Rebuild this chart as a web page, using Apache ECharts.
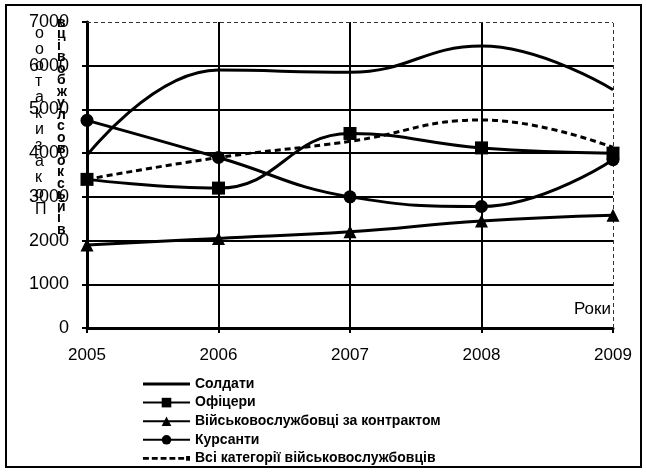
<!DOCTYPE html>
<html>
<head>
<meta charset="utf-8">
<script src="https://cdn.jsdelivr.net/npm/echarts@6/dist/echarts.min.js"></script>
<style>
  html, body { margin: 0; padding: 0; background: #fff; }
  #chart { width: 647px; height: 472px; }
</style>
</head>
<body>
<div id="chart"></div>
<script>
// years on the x axis
const years = ["2005", "2006", "2007", "2008", "2009"];

// values
const soldiers = [3950, 5900, 5850, 6450, 5450];
const officers = [3400, 3200, 4450, 4120, 4000];
const contract = [1900, 2050, 2200, 2450, 2580];
const cadets = [4750, 3900, 3000, 2780, 3850];
const allCategories = [3400, 3900, 4270, 4760, 4130];

const seriesNames = [
  "Солдати",
  "Офіцери",
  "Військовослужбовці за контрактом",
  "Курсанти",
  "Всі категорії військовослужбовців",
];

// garbled vertical axis title, as it shows in the picture
const yTitleCol1 = "ооотакизакоП";
const yTitleCol2 = "вцівобжулсовоксьйів";

const FONT = "Liberation Sans, Arial, sans-serif";

// legend icons for the series without markers
const solidIcon = "path://M0,0 H48 V3 H0 Z";
const dashedIcon =
  "path://M0,0 H6 V3 H0 Z M9,0 H15 V3 H9 Z M18,0 H24 V3 H18 Z M27,0 H33 V3 H27 Z M36,0 H42 V3 H36 Z M44,-1 H48 V4 H44 Z";

const chart = echarts.init(document.getElementById("chart"));

const lineSeries = (name, data, symbol, size, dashed) => ({
  name: name,
  type: "line",
  data: data,
  smooth: 0.45,
  symbol: symbol,
  symbolSize: size,
  showSymbol: symbol !== "none",
  lineStyle: { color: "#000", width: 3, type: dashed ? [6, 4] : "solid" },
  itemStyle: { color: "#000" },
  z: 5,
});

const option = {
  animation: false,
  backgroundColor: "#fff",
  grid: { left: 87, right: 34, top: 22, bottom: 144 },
  legend: {
    orient: "vertical",
    left: 142,
    top: 377,
    height: 110,
    padding: 0,
    itemWidth: 47,
    itemHeight: 12,
    itemGap: 4.6,
    textStyle: {
      fontFamily: FONT,
      fontSize: 14,
      lineHeight: 14,
      fontWeight: "bold",
      color: "#000",
    },
    data: [
      { name: seriesNames[0], icon: solidIcon },
      { name: seriesNames[1] },
      { name: seriesNames[2] },
      { name: seriesNames[3] },
      { name: seriesNames[4], icon: dashedIcon },
    ],
  },
  xAxis: {
    type: "category",
    data: years,
    boundaryGap: false,
    axisLine: { lineStyle: { color: "#000", width: 3 } },
    axisTick: { show: true, length: 5, lineStyle: { color: "#000", width: 2 } },
    axisLabel: { fontFamily: FONT, fontSize: 17, color: "#000", margin: 19 },
    splitLine: {
      show: true,
      lineStyle: { color: ["#000", "#000", "#000", "#000", "transparent"], width: 2 },
    },
  },
  yAxis: {
    type: "value",
    min: 0,
    max: 7000,
    interval: 1000,
    axisLine: { show: true, lineStyle: { color: "#000", width: 3 } },
    axisTick: { show: true, length: 5, lineStyle: { color: "#000", width: 2 } },
    axisLabel: {
      fontFamily: FONT,
      fontSize: 18,
      color: "#000",
      margin: 18,
      formatter: (v) => String(v),
    },
    splitLine: {
      show: true,
      lineStyle: {
        color: ["#000", "#000", "#000", "#000", "#000", "#000", "#000", "transparent"],
        width: 2,
      },
    },
  },
  series: [
    lineSeries(seriesNames[0], soldiers, "none", 0, false),
    lineSeries(seriesNames[1], officers, "rect", 13, false),
    lineSeries(seriesNames[2], contract, "triangle", 13, false),
    lineSeries(seriesNames[3], cadets, "circle", 13, false),
    Object.assign(lineSeries(seriesNames[4], allCategories, "none", 0, true), {
      markLine: {
        silent: true,
        symbol: "none",
        label: { show: false },
        lineStyle: { color: "#333", width: 1, type: [4, 3] },
        data: [
          [{ coord: ["2005", 7000] }, { coord: ["2009", 7000] }],
          [{ coord: ["2009", 0] }, { coord: ["2009", 7000] }],
        ],
      },
    }),
  ],
  graphic: [
    {
      type: "rect",
      shape: { x: 6, y: 5, width: 635, height: 462 },
      style: { fill: "none", stroke: "#000", lineWidth: 2 },
      silent: true,
    },
    {
      type: "text",
      left: 574,
      top: 301,
      style: { text: "Роки", font: "17px " + FONT, fill: "#000" },
    },
    {
      type: "text",
      left: 35,
      top: 26,
      style: {
        text: yTitleCol1.split("").join("\n"),
        font: "16px " + FONT,
        lineHeight: 16,
        align: "center",
        fill: "#000",
      },
    },
    {
      type: "text",
      left: 57,
      top: 16,
      style: {
        text: yTitleCol2.split("").join("\n"),
        font: "bold 14px " + FONT,
        lineHeight: 11.5,
        align: "center",
        fill: "#000",
      },
    },
  ],
};

chart.setOption(option);
</script>
</body>
</html>
